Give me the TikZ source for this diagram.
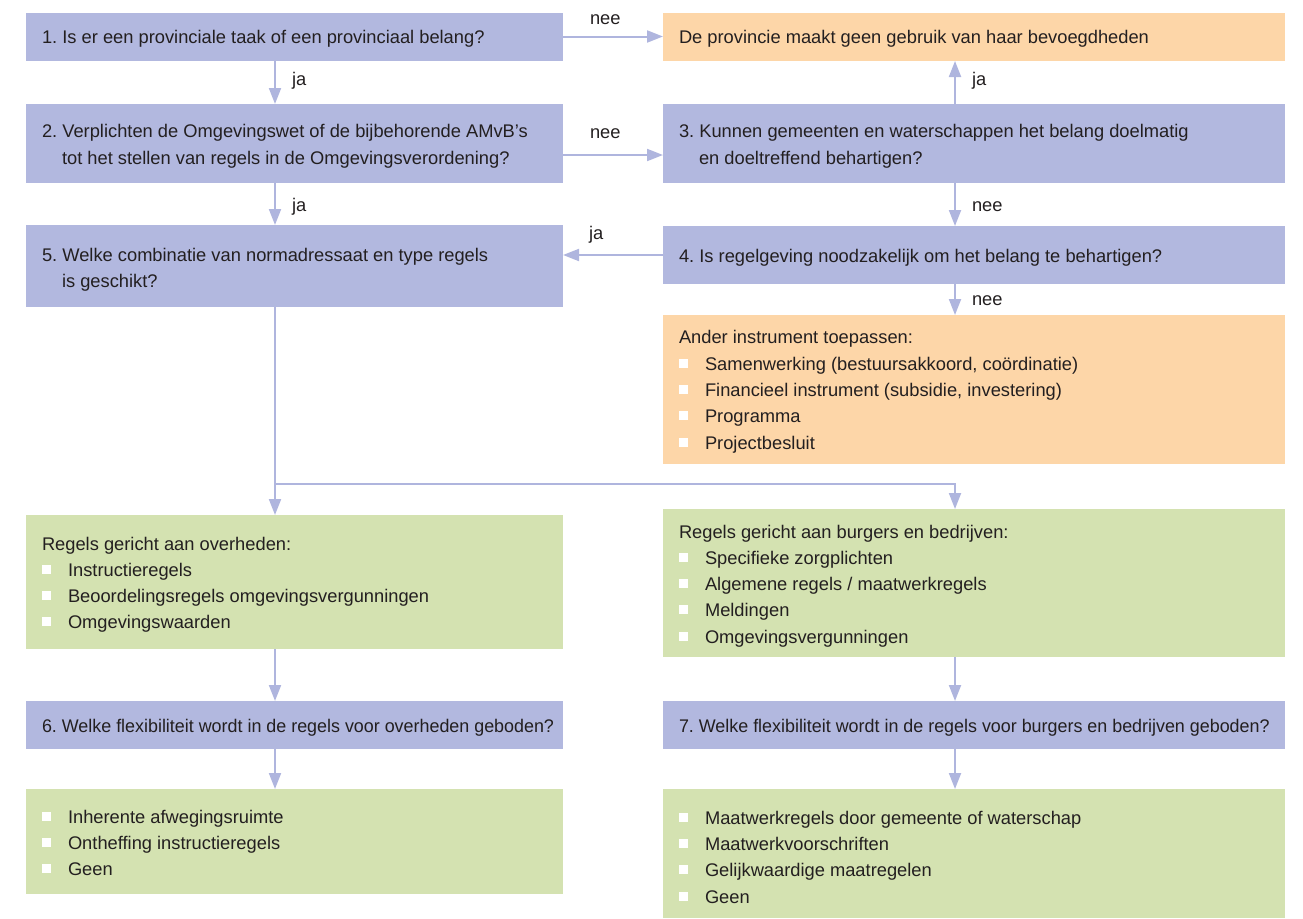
\documentclass[tikz,border=0pt]{standalone}
\usepackage{fontspec}
\setmainfont{Liberation Sans}
\newfontfamily\condfont[FakeStretch=0.978]{Liberation Sans}
\usetikzlibrary{arrows.meta}
\definecolor{pur}{HTML}{B2B8DF}
\definecolor{org}{HTML}{FDD6A8}
\definecolor{grn}{HTML}{D4E2B1}
\definecolor{ink}{HTML}{231F20}
\definecolor{arr}{HTML}{AFB5DE}
\tikzset{
  panel/.style={draw=none, inner sep=0, outer sep=0, anchor=north west},
  qbox/.style={panel, fill=pur},
  obox/.style={panel, fill=org},
  gbox/.style={panel, fill=grn},
  txt/.style={inner sep=0, outer sep=0, text=ink, font=\fontsize{18.3}{22}\selectfont, anchor=base west},
  ctxt/.style={txt, font=\condfont\fontsize{18.3}{22}\selectfont},
  bul/.style={fill=white, draw=none, inner sep=0, outer sep=0, minimum size=9pt, anchor=south west},
  link/.style={draw=arr, line width=2pt},
  conn/.style={link, -{Triangle[length=16pt,width=12pt]}},
}
\newcommand\litem[5]{%
  \node[bul] (#1b) at (#2,#4-2) {};
  \node[txt] (#1) at (#3,#4) {#5};}
\frenchspacing
\begin{document}
\begin{tikzpicture}[x=1pt,y=-1pt]
\useasboundingbox (0,0) rectangle (1303,918);
\coordinate (cl) at (275,0);
\coordinate (cr) at (955,0);
\coordinate (jn) at (275,484);
% boxes
\node[qbox, minimum width=537, minimum height=48] (q1) at (26,13) {};
\node[obox, minimum width=622, minimum height=48] (o1) at (663,13) {};
\node[qbox, minimum width=537, minimum height=79] (q2) at (26,104) {};
\node[qbox, minimum width=622, minimum height=79] (q3) at (663,104) {};
\node[qbox, minimum width=537, minimum height=82] (q5) at (26,225) {};
\node[qbox, minimum width=622, minimum height=58] (q4) at (663,226) {};
\node[obox, minimum width=622, minimum height=149] (o2) at (663,315) {};
\node[gbox, minimum width=537, minimum height=134] (gL) at (26,515) {};
\node[gbox, minimum width=622, minimum height=148] (gR) at (663,509) {};
\node[qbox, minimum width=537, minimum height=48] (q6) at (26,701) {};
\node[qbox, minimum width=622, minimum height=48] (q7) at (663,701) {};
\node[gbox, minimum width=537, minimum height=105] (gBL) at (26,789) {};
\node[gbox, minimum width=622, minimum height=129] (gBR) at (663,789) {};
% texts
\node[txt] (t1) at (42,43) {1. Is er een provinciale taak of een provinciaal belang?};
\node[txt] (to1) at (679,43) {De provincie maakt geen gebruik van haar bevoegdheden};
\node[txt] (t2a) at (42,137) {2. Verplichten de Omgevingswet of de bijbehorende AMvB’s};
\node[txt] (t2b) at (62,164) {tot het stellen van regels in de Omgevingsverordening?};
\node[txt] (t3a) at (679,137) {3. Kunnen gemeenten en waterschappen het belang doelmatig};
\node[txt] (t3b) at (699,164) {en doeltreffend behartigen?};
\node[txt] (t4) at (679,262) {4. Is regelgeving noodzakelijk om het belang te behartigen?};
\node[txt] (t5a) at (42,261) {5. Welke combinatie van normadressaat en type regels};
\node[txt] (t5b) at (62,287) {is geschikt?};
\node[txt] (to2) at (679,343) {Ander instrument toepassen:};
\litem{oi1}{679}{705}{370}{Samenwerking (bestuursakkoord, coördinatie)}
\litem{oi2}{679}{705}{396}{Financieel instrument (subsidie, investering)}
\litem{oi3}{679}{705}{422}{Programma}
\litem{oi4}{679}{705}{449}{Projectbesluit}
\node[txt] (tgL) at (42,550) {Regels gericht aan overheden:};
\litem{li1}{42}{68}{576}{Instructieregels}
\litem{li2}{42}{68}{602}{Beoordelingsregels omgevingsvergunningen}
\litem{li3}{42}{68}{628}{Omgevingswaarden}
\node[txt] (tgR) at (679,538) {Regels gericht aan burgers en bedrijven:};
\litem{ri1}{679}{705}{564}{Specifieke zorgplichten}
\litem{ri2}{679}{705}{590}{Algemene regels / maatwerkregels}
\litem{ri3}{679}{705}{616}{Meldingen}
\litem{ri4}{679}{705}{643}{Omgevingsvergunningen}
\node[ctxt] (t6) at (42,732) {6. Welke flexibiliteit wordt in de regels voor overheden geboden?};
\node[ctxt] (t7) at (679,732) {7. Welke flexibiliteit wordt in de regels voor burgers en bedrijven geboden?};
\litem{bl1}{42}{68}{823}{Inherente afwegingsruimte}
\litem{bl2}{42}{68}{849}{Ontheffing instructieregels}
\litem{bl3}{42}{68}{875}{Geen}
\litem{br1}{679}{705}{824}{Maatwerkregels door gemeente of waterschap}
\litem{br2}{679}{705}{850}{Maatwerkvoorschriften}
\litem{br3}{679}{705}{876}{Gelijkwaardige maatregelen}
\litem{br4}{679}{705}{903}{Geen}
% connectors
\draw[conn] ([yshift=0.5pt]q1.east) -- ([yshift=0.5pt]o1.west);
\draw[conn] (q1.south -| cl) -- (q2.north -| cl);
\draw[conn] ([yshift=-11.5pt]q2.east) -- ([yshift=-11.5pt]q3.west);
\draw[conn] (q3.north -| cr) -- (o1.south -| cr);
\draw[conn] (q3.south -| cr) -- (q4.north -| cr);
\draw[conn] (q2.south -| cl) -- (q5.north -| cl);
\draw[conn] (q4.west) -- (q4.west -| q5.east);
\draw[conn] (q4.south -| cr) -- (o2.north -| cr);
\draw[link] (q5.south -| cl) -- (jn);
\draw[conn] (jn) -- (gL.north -| cl);
\draw[conn] (jn) -| (gR.north -| cr);
\draw[conn] (gL.south -| cl) -- (q6.north -| cl);
\draw[conn] (gR.south -| cr) -- (q7.north -| cr);
\draw[conn] (q6.south -| cl) -- (gBL.north -| cl);
\draw[conn] (q7.south -| cr) -- (gBR.north -| cr);
% labels
\node[txt] (l1) at (590,24) {nee};
\node[txt] (l2) at (292,85) {ja};
\node[txt] (l3) at (590,138) {nee};
\node[txt] (l4) at (972,85) {ja};
\node[txt] (l5) at (292,211) {ja};
\node[txt] (l6) at (972,211) {nee};
\node[txt] (l7) at (589,239) {ja};
\node[txt] (l8) at (972,305) {nee};
\end{tikzpicture}
\end{document}
